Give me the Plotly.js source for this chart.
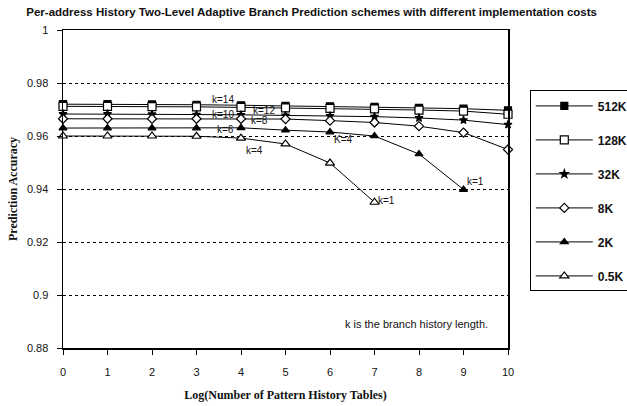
<!DOCTYPE html>
<html>
<head>
<meta charset="utf-8">
<script src="https://cdn.plot.ly/plotly-3.0.1.min.js"></script>
<style>html,body{margin:0;padding:0;background:#fff;}#chart{width:627px;height:406px;}</style>
</head>
<body>
<div id="chart"></div>
<script>
// ---- data ----
var logPHT = [0, 1, 2, 3, 4, 5, 6, 7, 8, 9, 10];
var seriesNames = ["512K", "128K", "32K", "8K", "2K", "0.5K"];
var acc512K = [0.9720, 0.9720, 0.9719, 0.9718, 0.9716, 0.9714, 0.9712, 0.9710, 0.9706, 0.9703, 0.9697];
var acc128K = [0.9712, 0.9712, 0.9711, 0.9710, 0.9708, 0.9706, 0.9704, 0.9702, 0.9698, 0.9694, 0.9682];
var acc32K  = [0.9683, 0.9683, 0.9682, 0.9681, 0.9680, 0.9678, 0.9676, 0.9673, 0.9668, 0.9660, 0.9643];
var acc8K   = [0.9665, 0.9665, 0.9665, 0.9665, 0.9665, 0.9664, 0.9658, 0.9651, 0.9637, 0.9613, 0.9549];
var acc2K   = [0.9630, 0.9630, 0.9630, 0.9630, 0.9631, 0.9622, 0.9615, 0.9600, 0.9532, 0.9398];
var acc05K  = [0.9600, 0.9600, 0.9600, 0.9599, 0.9592, 0.9570, 0.9498, 0.9350];
var yTicks = [0.88, 0.9, 0.92, 0.94, 0.96, 0.98, 1];
var yTickText = ["0.88", "0.9", "0.92", "0.94", "0.96", "0.98", "1"];
var kLabels = ["k=14", "k=12", "k=10", "k=8", "k=6", "k=4", "K=4", "k=2", "k=1", "k=1"];
var kLabelX = [3.6, 4.52, 3.6, 4.42, 3.65, 4.3, 6.3, 10.22, 9.26, 7.27];
var kLabelY = [0.9737, 0.9697, 0.9683, 0.9657, 0.9626, 0.9547, 0.9588, 0.9558, 0.9428, 0.9355];
var noteText = "k is the branch history length.";

var values = [acc512K, acc128K, acc32K, acc8K, acc2K, acc05K];
var symbols = ["square", "square", "star", "diamond", "triangle-up", "triangle-up"];
var fills = ["black", "white", "black", "white", "black", "white"];
var sizes = [7, 8, 6, 7, 7, 8];

var traces = values.map(function (v, i) {
  return {
    x: logPHT.slice(0, v.length),
    y: v,
    name: seriesNames[i],
    type: "scatter",
    mode: "lines+markers",
    cliponaxis: false,
    legendgroup: "g" + i,
    line: {color: "black", width: 1},
    marker: {symbol: symbols[i], size: sizes[i], color: fills[i], line: {color: "black", width: 1.2}}
  };
});

var annotations = kLabels.map(function (t, i) {
  return {x: kLabelX[i], y: kLabelY[i], xref: "x", yref: "y", text: t, showarrow: false,
          xanchor: "center", yanchor: "middle",
          font: {family: "Liberation Sans, Arial, sans-serif", size: 10, color: "#111"}};
});
annotations.push({x: 7.95, y: 0.889, xref: "x", yref: "y", text: noteText, showarrow: false,
  xanchor: "center", yanchor: "middle",
  font: {family: "Liberation Sans, Arial, sans-serif", size: 11, color: "#111"}});

var layout = {
  width: 627, height: 406,
  margin: {l: 63, r: 119, t: 30, b: 58, autoexpand: false},
  paper_bgcolor: "white", plot_bgcolor: "white",
  showlegend: true,
  title: {text: "Per-address History Two-Level Adaptive Branch Prediction schemes with different implementation costs",
          x: 0.497, xanchor: "center", y: 0.97, yanchor: "middle",
          font: {family: "Liberation Sans, Arial, sans-serif", size: 11.5, color: "#111", weight: "bold"}},
  xaxis: {
    range: [0, 10], tickvals: logPHT, ticktext: logPHT.map(String),
    showgrid: false, zeroline: false, showline: true, mirror: true,
    linecolor: "black", linewidth: 1.5, ticks: "outside", ticklen: 5, tickcolor: "black",
    ticklabelstandoff: 8,
    tickfont: {family: "Liberation Sans, Arial, sans-serif", size: 11, color: "#111"},
    title: {text: "Log(Number of Pattern History Tables)", standoff: 14,
            font: {family: "Liberation Serif, Times New Roman, serif", size: 12, color: "#111", weight: "bold"}}
  },
  yaxis: {
    range: [0.88, 1], tickvals: yTicks, ticktext: yTickText,
    showgrid: true, gridcolor: "black", griddash: "dot", gridwidth: 1,
    zeroline: false, showline: true, mirror: true,
    linecolor: "black", linewidth: 1.5, ticks: "outside", ticklen: 5, tickcolor: "black",
    ticklabelstandoff: 6,
    tickfont: {family: "Liberation Sans, Arial, sans-serif", size: 11, color: "#111"},
    title: {text: "Prediction Accuracy", standoff: 6,
            font: {family: "Liberation Serif, Times New Roman, serif", size: 12, color: "#111", weight: "bold"}}
  },
  legend: {
    x: 1.049, xanchor: "left", y: 0.81, yanchor: "top",
    bgcolor: "white", bordercolor: "black", borderwidth: 1,
    tracegroupgap: 15, itemwidth: 57,
    font: {family: "Liberation Sans, Arial, sans-serif", size: 12, color: "#111", weight: "bold"}
  },
  annotations: annotations
};

Plotly.newPlot("chart", traces, layout, {staticPlot: true, displayModeBar: false});
</script>
</body>
</html>
